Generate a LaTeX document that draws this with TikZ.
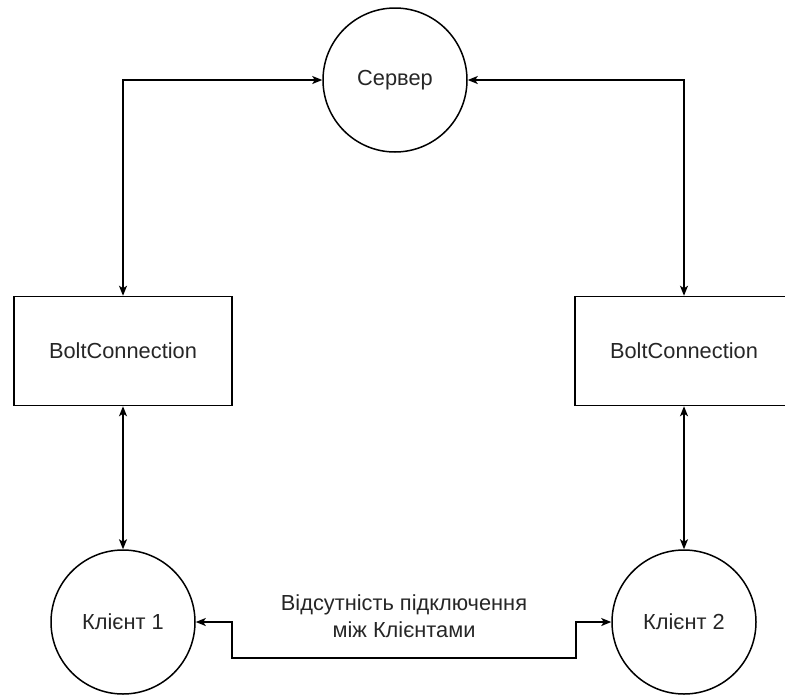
\documentclass[tikz,border=0pt]{standalone}
\usepackage{fontspec}
\setmainfont{Liberation Sans}
\usetikzlibrary{arrows.meta}
\begin{document}
\begin{tikzpicture}[x=1pt,y=-1pt,
  every node/.style={font=\fontsize{21.8}{27}\selectfont, text=black!85},
  round/.style={draw, line width=1.5pt, circle, minimum size=144pt, inner sep=0pt},
  block/.style={draw, line width=1.5pt, rectangle, minimum width=218pt, minimum height=109pt, inner sep=0pt},
  link/.style={line width=1.5pt, {Stealth[length=10pt,width=8pt,inset=2.5pt]}-{Stealth[length=10pt,width=8pt,inset=2.5pt]}}
]
\useasboundingbox (0,0) rectangle (785,694);

% server, connection blocks and clients
\node[round] (srv) at (395,80) {Сервер};
\node[block] (b1) at (123,351) {BoltConnection};
\node[block] (b2) at (684,351) {BoltConnection};
\node[round] (k1) at (123,622) {Клієнт 1};
\node[round] (k2) at (684,622) {Клієнт 2};

% server <-> connections
\draw[link] (srv.west) -| (b1.north);
\draw[link] (srv.east) -| (b2.north);

% connections <-> clients
\draw[link] (b1.south) -- (k1.north);
\draw[link] (b2.south) -- (k2.north);

% clients: no direct connection
\coordinate (p1) at (232,622);
\coordinate (p2) at (232,658);
\coordinate (p3) at (576,658);
\coordinate (p4) at (576,622);
\draw[link] (k1.east) -- (p1) -- (p2) -- (p3) -- (p4) -- (k2.west);
\node[align=center] (lbl) at (404,616) {Відсутність підключення\\між Клієнтами};
\end{tikzpicture}
\end{document}
